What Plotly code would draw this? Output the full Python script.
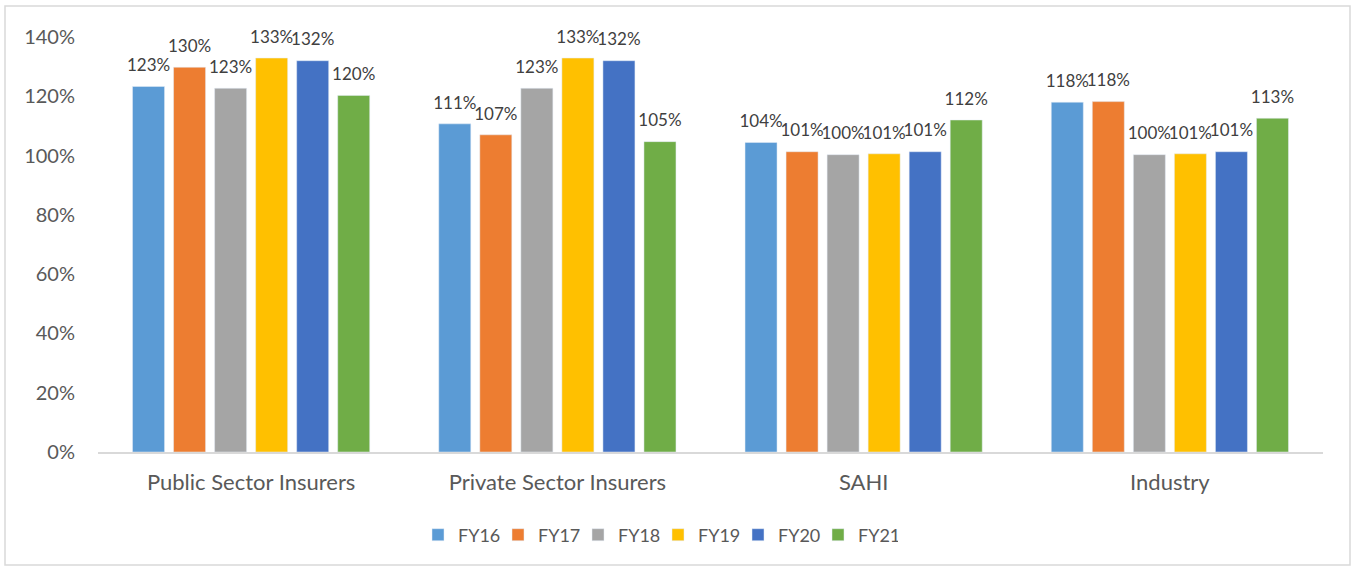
import plotly.graph_objects as go

categories = ["Public Sector Insurers", "Private Sector Insurers", "SAHI", "Industry"]
series_names = ["FY16", "FY17", "FY18", "FY19", "FY20", "FY21"]
fy16 = [1.233, 1.107, 1.044, 1.180]
fy17 = [1.298, 1.070, 1.013, 1.182]
fy18 = [1.227, 1.227, 1.003, 1.003]
fy19 = [1.329, 1.329, 1.006, 1.006]
fy20 = [1.320, 1.320, 1.013, 1.013]
fy21 = [1.203, 1.047, 1.120, 1.126]
colors = ["#5B9BD5", "#ED7D31", "#A5A5A5", "#FFC000", "#4472C4", "#70AD47"]

values = [fy16, fy17, fy18, fy19, fy20, fy21]
font_family = "Lato, 'Open Sans', sans-serif"

fig = go.Figure()
for i, (name, vals, col) in enumerate(zip(series_names, values, colors)):
    fig.add_trace(go.Bar(
        name=name, x=categories, y=vals,
        marker=dict(color=col), offsetgroup=str(i),
    ))
for i, (name, vals, col) in enumerate(zip(series_names, values, colors)):
    fig.add_trace(go.Scatter(
        name=name, x=categories, y=vals, mode="markers+text",
        marker=dict(size=16, opacity=0, color=col),
        text=[f"{v:.0%}" for v in vals], textposition="top center",
        textfont=dict(size=17, color="#404040", family=font_family),
        offsetgroup=str(i), showlegend=False, hoverinfo="skip", cliponaxis=False,
    ))

FW, FH = 1357, 570
L, R, T, B = 98, 1323, 37, 452
W, H = R - L, B - T

def px_x(p):
    return (p - L) / W

def px_y(p):
    return (B - p) / H

fig.update_layout(
    width=FW, height=FH,
    margin=dict(l=L, r=FW - R, t=T, b=FH - B),
    paper_bgcolor="white", plot_bgcolor="white",
    barmode="group", bargap=0.196, bargroupgap=0.22,
    scattermode="group", scattergap=0.196,
    font=dict(family=font_family, color="#595959"),
    showlegend=True,
    legend=dict(orientation="h", x=px_x(418), xanchor="left", y=px_y(535), yanchor="middle",
                font=dict(size=18, color="#595959"), itemwidth=30, traceorder="normal",
                entrywidth=35, entrywidthmode="pixels"),
    xaxis=dict(showline=True, linecolor="#D9D9D9", linewidth=2, showgrid=False,
               tickfont=dict(size=22, color="#595959"), ticks="", ticklabelstandoff=10),
    yaxis=dict(range=[0, 1.4], dtick=0.2, tickformat=".0%", showgrid=False, zeroline=False,
               showline=False, tickfont=dict(size=20, color="#595959"), ticks="",
               ticklabelstandoff=22),
    shapes=[dict(type="rect", xref="paper", yref="paper",
                 x0=px_x(5), x1=px_x(1350), y0=px_y(6), y1=px_y(565),
                 line=dict(color="#D9D9D9", width=1.5), fillcolor="rgba(0,0,0,0)", layer="below")],
)

fig.write_html("out.html", config={"displayModeBar": False},
               post_script="document.body.style.margin='0px';")
